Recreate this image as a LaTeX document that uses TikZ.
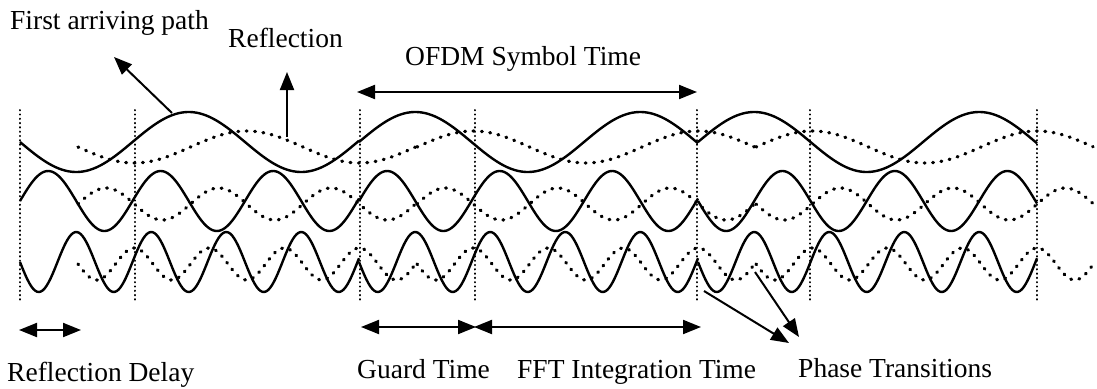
\documentclass[tikz,border=0pt]{standalone}
\usepackage{fontspec}
\setmainfont{Liberation Serif}
\usetikzlibrary{arrows.meta}

% one sinusoidal piece: start, end, centre line, sign, period, amplitude, style
\newcommand\wavepiece[7]{%
  \draw[#7] plot[domain=#1:#2, samples=180, smooth]
    (\x, {#3 + #4*#6*sin(((\x-#1)/#5)*360)});}

\tikzset{
  solidwave/.style={line width=2.4pt, line join=round},
  echowave/.style={line width=3.3pt, line cap=round, dash pattern=on 0.8pt off 7.6pt},
  boundary/.style={line width=2pt, line cap=round, dash pattern=on 0.4pt off 3.9pt},
  pointer/.style={line width=2pt, -{Triangle[length=18pt,width=14pt]}},
  span/.style={line width=2pt, {Triangle[length=18pt,width=14pt]}-{Triangle[length=18pt,width=14pt]}},
  label/.style={inner sep=0pt, anchor=base west, font=\fontsize{27.5}{30}\selectfont}
}

\begin{document}
\begin{tikzpicture}[x=1pt, y=-1pt]
\useasboundingbox (0,0) rectangle (1097,388);

% symbol and guard boundaries
\foreach \b in {20,135,360,475,697,810,1037}
  \draw[boundary] (\b,110) -- (\b,302);

% first arriving path: three subcarriers, three symbols
\wavepiece{20}{359}{142}{1}{225}{30}{solidwave}
\wavepiece{359}{698}{142}{-1}{225}{30}{solidwave}
\wavepiece{698}{1037}{142}{-1}{225}{30}{solidwave}
\wavepiece{20}{359}{201}{-1}{112.5}{30}{solidwave}
\wavepiece{359}{698}{201}{-1}{112.5}{30}{solidwave}
\wavepiece{698}{1037}{201}{1}{112.5}{30}{solidwave}
\wavepiece{20}{359}{262}{1}{75}{30}{solidwave}
\wavepiece{359}{698}{262}{1}{75}{30}{solidwave}
\wavepiece{698}{1037}{262}{1}{75}{30}{solidwave}

% delayed reflection
\wavepiece{78}{417}{147}{1}{225}{16}{echowave}
\wavepiece{417}{756}{147}{-1}{225}{16}{echowave}
\wavepiece{756}{1093}{147}{-1}{225}{16}{echowave}
\wavepiece{78}{417}{204}{-1}{112.5}{16}{echowave}
\wavepiece{417}{756}{204}{-1}{112.5}{16}{echowave}
\wavepiece{756}{1093}{204}{1}{112.5}{16}{echowave}
\wavepiece{78}{417}{264}{1}{75}{16}{echowave}
\wavepiece{417}{756}{264}{1}{75}{16}{echowave}
\wavepiece{756}{1093}{264}{1}{75}{16}{echowave}

% labels
\node[label] (first) at (10,29) {First arriving path};
\node[label] (refl) at (228,47) {Reflection};
\node[label] (symtime) at (405,65) {OFDM Symbol Time};
\node[label] (delay) at (7,381) {Reflection Delay};
\node[label] (guard) at (357,378) {Guard Time};
\node[label] (fft) at (517,378) {FFT Integration Time};
\node[label] (phase) at (798,377) {Phase Transitions};

% pointer ends
\coordinate (firstfoot) at (172,113);
\coordinate (firsttip) at (114,57);
\coordinate (reflfoot) at (287,137);
\coordinate (refltip) at (287,72);
\coordinate (phAfoot) at (704,291);
\coordinate (phAtip) at (789,343);
\coordinate (phBfoot) at (755,272);
\coordinate (phBtip) at (799,337);

\draw[pointer] (firstfoot) -- (firsttip);
\draw[pointer] (reflfoot) -- (refltip);
\draw[pointer] (phAfoot) -- (phAtip);
\draw[pointer] (phBfoot) -- (phBtip);

% time spans
\coordinate (symL) at (357,92);
\coordinate (symR) at (697,92);
\coordinate (delL) at (19,330);
\coordinate (delR) at (81,330);
\coordinate (grdL) at (361,327);
\coordinate (grdR) at (476,327);
\coordinate (fftL) at (474,327);
\coordinate (fftR) at (701,327);

\draw[span] (symL) -- (symR);
\draw[span] (delL) -- (delR);
\draw[span] (grdL) -- (grdR);
\draw[span] (fftL) -- (fftR);
\end{tikzpicture}
\end{document}
